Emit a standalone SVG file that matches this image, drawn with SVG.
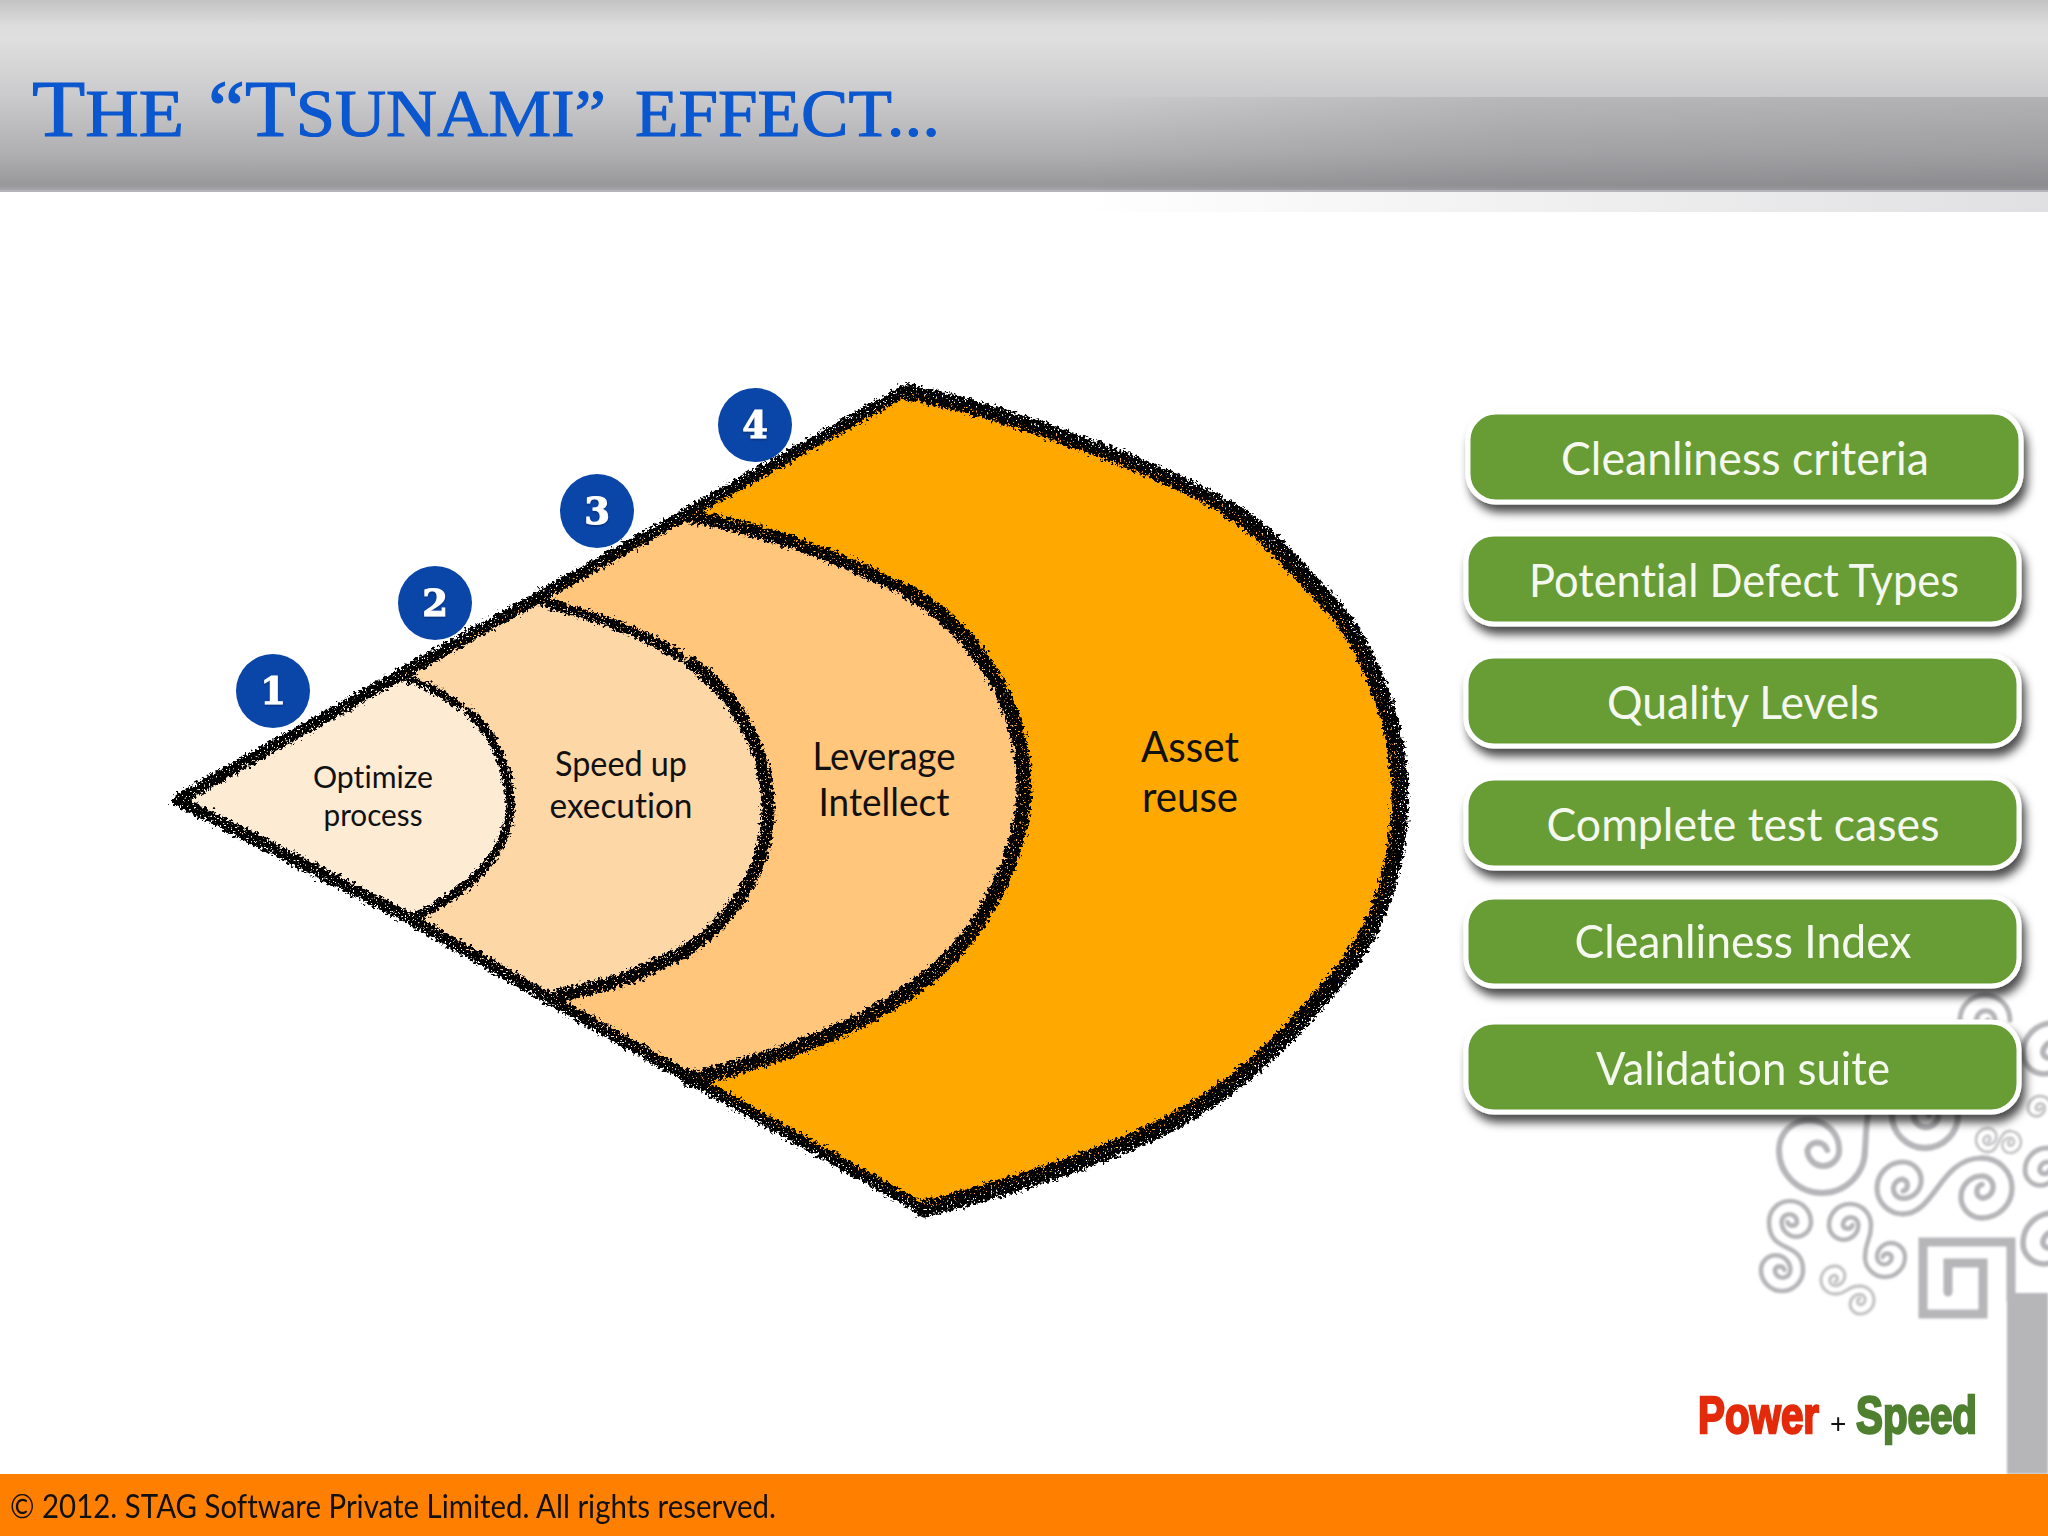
<svg xmlns="http://www.w3.org/2000/svg" width="2048" height="1536" viewBox="0 0 2048 1536">
<style>
.lbl{font-family:"Lato","Noto Sans",sans-serif;fill:#111;text-anchor:middle;font-variant-ligatures:none}
.btn{fill:#679c35;stroke:#fff;stroke-width:5}
.btxt{font-family:"Lato","Noto Sans",sans-serif;font-size:46px;fill:#f4f8ee;text-anchor:middle;font-variant-ligatures:none}
.ink{fill:none;stroke:#000;stroke-linecap:round;stroke-linejoin:round}
.badge{fill:#0a45a8}
.num{font-family:"DejaVu Serif",serif;font-weight:bold;font-size:37px;fill:#fff;text-anchor:middle;stroke:#fff;stroke-width:1}
.tr{fill:none;stroke:#b6b6b9;stroke-linecap:round;stroke-linejoin:miter}
</style>
<defs>
<linearGradient id="hd" x1="0" y1="0" x2="0" y2="1">
<stop offset="0" stop-color="#c3c3c3"/><stop offset=".13" stop-color="#dcdcdc"/><stop offset=".2" stop-color="#dfdfdf"/><stop offset=".5" stop-color="#cbcbcd"/><stop offset=".8" stop-color="#b0b0b2"/><stop offset=".97" stop-color="#98989b"/><stop offset="1" stop-color="#a8a8ac"/>
</linearGradient>
<linearGradient id="ov" x1="0" y1="0" x2="1" y2="0">
<stop offset="0" stop-color="#6c6c70" stop-opacity="0"/><stop offset=".45" stop-color="#6c6c70" stop-opacity=".2"/><stop offset="1" stop-color="#6c6c70" stop-opacity=".26"/>
</linearGradient>
<linearGradient id="bd" x1="0" y1="0" x2="1" y2="0">
<stop offset="0" stop-color="#e0e0e2" stop-opacity="0"/><stop offset="1" stop-color="#e0e0e2"/>
</linearGradient>
<filter id="rough" x="-5%" y="-5%" width="110%" height="110%">
<feTurbulence type="fractalNoise" baseFrequency=".3" numOctaves="3" seed="4" result="n"/>
<feDisplacementMap in="SourceGraphic" in2="n" scale="11" xChannelSelector="R" yChannelSelector="G" result="d"/>
<feTurbulence type="fractalNoise" baseFrequency=".55" numOctaves="2" seed="9" result="m"/>
<feColorMatrix in="m" type="matrix" values="0 0 0 0 0 0 0 0 0 0 0 0 0 0 0 12 0 0 0 -3.4" result="mask"/>
<feComposite in="d" in2="mask" operator="in"/>
</filter>
<filter id="sh" x="-5%" y="-20%" width="112%" height="150%">
<feDropShadow dx="4" dy="8" stdDeviation="5" flood-color="#000" flood-opacity=".7"/>
</filter>
<filter id="soft"><feGaussianBlur stdDeviation=".8"/></filter>
<filter id="dig"><feDropShadow dx="0" dy="1" stdDeviation="1" flood-color="#000" flood-opacity=".4"/></filter>
<path id="sp" d="M10,0A10,10 0 0 0 -10,0A7,7 0 0 0 4,0A3.7,3.7 0 0 0 -3.4,0A2.4,2.4 0 0 0 1.2,0"/>
</defs>
<rect width="2048" height="1536" fill="#fff"/>
<g id="header">
<rect x="1080" y="192" width="968" height="20" fill="url(#bd)"/>
<rect width="2048" height="191" fill="url(#hd)"/>
<rect x="1080" y="97" width="968" height="94" fill="url(#ov)"/>
<rect y="190" width="2048" height="2" fill="#b4b4bc"/>
<text y="136" font-family="Liberation Serif,serif" font-size="68" fill="#0b57cf" stroke="#0b57cf" stroke-width="1.1"><tspan x="32" textLength="152" lengthAdjust="spacingAndGlyphs"><tspan font-size="80">T</tspan>HE</tspan> <tspan x="208" textLength="398" lengthAdjust="spacingAndGlyphs"><tspan font-size="80">“T</tspan>SUNAMI”</tspan> <tspan x="635" textLength="305" lengthAdjust="spacingAndGlyphs">EFFECT...</tspan></text>
</g>
<g id="tree" filter="url(#soft)">
<rect x="2007" y="1293" width="41" height="181" fill="#b6b6b9"/>
<path class="tr" stroke-width="9" d="M2011,1300V1242H1923V1314H1983V1263H1948V1292"/>
<g class="tr">
<use href="#sp" stroke-width="1.4" transform="translate(1822,1150) scale(4.3,-4.3)"/>
<path stroke-width="6" d="M1865,1150C1866,1135 1866,1125 1868,1115"/>
<use href="#sp" stroke-width="1.9" transform="translate(1925,1115) scale(3.3,-3.3)"/>
<use href="#sp" stroke-width="2" transform="translate(1903,1188) rotate(90) scale(2.6,-2.6)"/>
<use href="#sp" stroke-width="1.8" transform="translate(1982,1188) rotate(-90) scale(3,-3)"/>
<path stroke-width="5.2" d="M1903,1214C1935,1214 1940,1158 1982,1158"/>
<use href="#sp" stroke-width="2.2" transform="translate(1790,1222) rotate(180) scale(2.1,-2.1)"/>
<use href="#sp" stroke-width="2.2" transform="translate(1782,1270) scale(2.1,-2.1)"/>
<path stroke-width="4.6" d="M1769,1222C1769,1255 1803,1240 1803,1270"/>
<use href="#sp" stroke-width="2.2" transform="translate(1850,1225) scale(2.1)"/>
<use href="#sp" stroke-width="2.2" transform="translate(1885,1257) rotate(180) scale(2)"/>
<path stroke-width="4.6" d="M1871,1225C1871,1242 1865,1240 1865,1257"/>
<g style="stroke:#c6c6c8">
<use href="#sp" stroke-width="2.4" transform="translate(1835,1280) rotate(90) scale(1.4,-1.4)"/>
<use href="#sp" stroke-width="2.4" transform="translate(1860,1300) rotate(-90) scale(1.4,-1.4)"/>
<path stroke-width="3.4" d="M1835,1294C1848,1294 1846,1286 1860,1286"/>
<use href="#sp" stroke-width="2.4" transform="translate(1988,1140) rotate(90) scale(1.2,-1.2)"/>
<use href="#sp" stroke-width="2.4" transform="translate(2010,1142) rotate(-90) scale(1.1,-1.1)"/>
<path stroke-width="2.8" d="M1988,1152C2000,1152 1998,1131 2010,1131"/>
<use href="#sp" stroke-width="2.6" transform="translate(2040,1108) scale(1.2)"/>
</g>
<use href="#sp" stroke-width="2.2" transform="translate(2047,1170) scale(2.2)"/>
<use href="#sp" stroke-width="1.9" transform="translate(2053,1053) scale(3)"/>
<use href="#sp" stroke-width="1.9" transform="translate(2053,1243) scale(3)"/>
<use href="#sp" stroke-width="2" transform="translate(1985,1020) scale(2.5)"/>
</g>
</g>
<g id="layer4">
<path fill="#ffa900" d="M178,800L906,392C960,400 1120,450 1222,504C1265,528 1295,568 1327,600C1365,640 1400,720 1400,795C1400,880 1370,945 1327,990C1290,1035 1250,1075 1201,1105C1150,1140 1040,1180 923,1209L692,1079L548,998L411,919L183,803Z"/>
</g>
<g id="layer3">
<path fill="#ffc67c" d="M178,800L690,516C770,530 845,560 902,589C960,620 1024,690 1024,787C1024,860 975,945 919,984C860,1030 770,1060 690,1080L548,998L411,919L183,803Z"/>
</g>
<g id="layer2">
<path fill="#fdd7a6" d="M178,800L540,601C590,615 640,630 685,659C730,690 768,745 768,809C768,880 715,945 655,965C620,985 580,990 548,998L411,919L183,803Z"/>
</g>
<g id="layer1">
<path fill="#fdebd4" d="M178,800L398,676C430,685 447,697 464,709C490,730 510,765 510,805C510,860 455,900 410,919L183,803Z"/>
</g>
<g id="outlines" filter="url(#rough)">
<path class="ink" stroke-width="15" d="M906,392C960,400 1120,450 1218,502"/>
<path class="ink" stroke-width="17" d="M1228,509C1265,528 1295,568 1327,600C1365,640 1400,720 1400,795C1400,880 1370,945 1327,990C1290,1035 1250,1075 1201,1105C1150,1140 1040,1180 923,1209"/>
<path class="ink" stroke-width="13" d="M690,516C770,530 845,560 896,586"/>
<path class="ink" stroke-width="15" d="M908,592C960,620 1024,690 1024,787C1024,860 975,945 919,984C860,1030 770,1060 690,1080"/>
<path class="ink" stroke-width="10" d="M540,601C590,615 640,630 680,656"/>
<path class="ink" stroke-width="13" d="M691,663C730,690 768,745 768,809C768,880 715,945 655,965C620,985 580,990 548,998"/>
<path class="ink" stroke-width="8" d="M398,676C430,685 447,697 459,706"/>
<path class="ink" stroke-width="9" d="M469,712C490,730 510,765 510,805C510,860 455,900 410,919"/>
<path class="ink" stroke-width="12" d="M908,389L178,800L183,803L411,919L548,998L692,1079L921,1208"/>
</g>
<g id="label4"><text class="lbl" font-size="42" x="1190" y="762" textLength="98" lengthAdjust="spacingAndGlyphs">Asset</text><text class="lbl" font-size="42" x="1190" y="812" textLength="96" lengthAdjust="spacingAndGlyphs">reuse</text></g>
<g id="label3"><text class="lbl" font-size="38" x="884" y="770" textLength="143" lengthAdjust="spacingAndGlyphs">Leverage</text><text class="lbl" font-size="38" x="884" y="816" textLength="131" lengthAdjust="spacingAndGlyphs">Intellect</text></g>
<g id="label2"><text class="lbl" font-size="34" x="621" y="776" textLength="132" lengthAdjust="spacingAndGlyphs">Speed up</text><text class="lbl" font-size="34" x="621" y="818" textLength="143" lengthAdjust="spacingAndGlyphs">execution</text></g>
<g id="label1"><text class="lbl" font-size="30" x="373" y="788" textLength="120" lengthAdjust="spacingAndGlyphs">Optimize</text><text class="lbl" font-size="30" x="373" y="826" textLength="99" lengthAdjust="spacingAndGlyphs">process</text></g>
<g id="badge1"><circle class="badge" cx="273" cy="691" r="37"/><text class="num" x="273" y="704" filter="url(#dig)">1</text></g>
<g id="badge2"><circle class="badge" cx="435" cy="603" r="37"/><text class="num" x="435" y="616" filter="url(#dig)">2</text></g>
<g id="badge3"><circle class="badge" cx="597" cy="511" r="37"/><text class="num" x="597" y="524" filter="url(#dig)">3</text></g>
<g id="badge4"><circle class="badge" cx="755" cy="425" r="37"/><text class="num" x="755" y="438" filter="url(#dig)">4</text></g>
<g id="item1"><rect class="btn" filter="url(#sh)" x="1468" y="412" width="553" height="90" rx="28"/><text class="btxt" x="1745" y="475" textLength="368" lengthAdjust="spacingAndGlyphs">Cleanliness criteria</text></g>
<g id="item2"><rect class="btn" filter="url(#sh)" x="1466" y="534" width="553" height="90" rx="28"/><text class="btxt" x="1744" y="597" textLength="430" lengthAdjust="spacingAndGlyphs">Potential Defect Types</text></g>
<g id="item3"><rect class="btn" filter="url(#sh)" x="1466" y="656" width="553" height="90" rx="28"/><text class="btxt" x="1743" y="719" textLength="272" lengthAdjust="spacingAndGlyphs">Quality Levels</text></g>
<g id="item4"><rect class="btn" filter="url(#sh)" x="1466" y="778" width="553" height="90" rx="28"/><text class="btxt" x="1743" y="841" textLength="393" lengthAdjust="spacingAndGlyphs">Complete test cases</text></g>
<g id="item5"><rect class="btn" filter="url(#sh)" x="1466" y="897" width="553" height="89" rx="28"/><text class="btxt" x="1743" y="958" textLength="337" lengthAdjust="spacingAndGlyphs">Cleanliness Index</text></g>
<g id="item6"><rect class="btn" filter="url(#sh)" x="1466" y="1022" width="553" height="90" rx="28"/><text class="btxt" x="1743" y="1085" textLength="294" lengthAdjust="spacingAndGlyphs">Validation suite</text></g>
<g id="tagline" font-family="Liberation Sans Narrow,Liberation Sans,sans-serif" font-weight="bold">
<text y="1433" font-size="52"><tspan x="1698" fill="#e32a0a" stroke="#e32a0a" stroke-width="2.4" textLength="121" lengthAdjust="spacingAndGlyphs">Power</tspan> <tspan x="1830" font-size="28" font-weight="normal" fill="#111">+</tspan> <tspan x="1856" fill="#4f8030" stroke="#4f8030" stroke-width="2.4" textLength="121" lengthAdjust="spacingAndGlyphs">Speed</tspan></text>
</g>
<g id="footer">
<rect y="1474" width="2048" height="62" fill="#ff7f00"/>
<text x="10" y="1518" font-family="Lato,Noto Sans,sans-serif" font-size="32" fill="#111" textLength="766" lengthAdjust="spacingAndGlyphs" style="font-variant-ligatures:none">© 2012. STAG Software Private Limited. All rights reserved.</text>
</g>
</svg>
